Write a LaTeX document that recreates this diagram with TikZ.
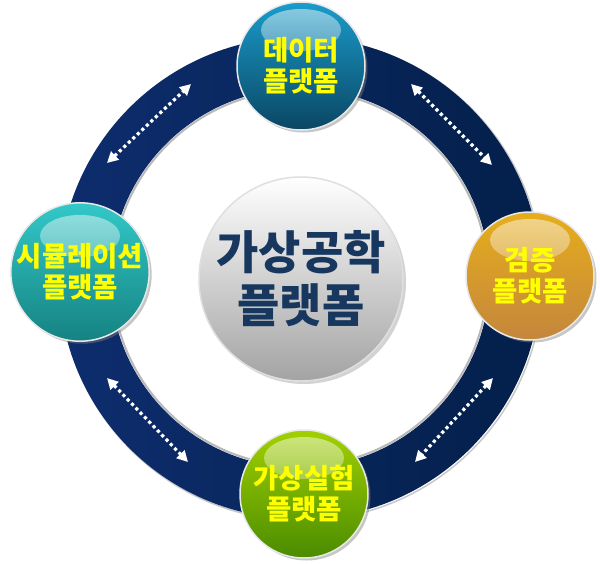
\documentclass[tikz,border=0pt]{standalone}
\usepackage{fontspec}
\newfontfamily\kr{Noto Sans CJK KR}
\usetikzlibrary{arrows.meta,shadows,fadings}
\definecolor{ringL}{HTML}{0E2D6E}
\definecolor{ringR}{HTML}{031F4A}
\definecolor{navytext}{HTML}{17375E}
\definecolor{txtyellow}{HTML}{FFFF00}
\definecolor{blueT}{HTML}{1A9CCB}
\definecolor{blueB}{HTML}{0A4663}
\definecolor{goldT}{HTML}{E6AE1C}
\definecolor{goldB}{HTML}{C4863C}
\definecolor{tealT}{HTML}{33C8C8}
\definecolor{tealB}{HTML}{168282}
\definecolor{limeT}{HTML}{A2D000}
\definecolor{limeB}{HTML}{4A8C00}
\tikzset{
  ball/.style={circle, minimum size=128pt, inner sep=0pt, draw=white!82!gray, line width=1.5pt,
    drop shadow={shadow xshift=2.5pt, shadow yshift=-2.5pt, opacity=.45},
    align=center, text=txtyellow, font=\kr\bfseries\fontsize{27.5}{31}\selectfont,
    path picture={\fill[white, path fading=south, fill opacity=.5]
      ([yshift=36pt]path picture bounding box.center) ellipse [x radius=40pt, y radius=21pt];}},
  hub/.style={circle, minimum size=204pt, inner sep=0pt, draw=white!75!gray, line width=1.5pt,
    top color=white, bottom color=black!36,
    drop shadow={shadow xshift=3pt, shadow yshift=-3pt, opacity=.35},
    align=center, text=navytext, font=\kr\bfseries\fontsize{46}{53}\selectfont},
  arrowdots/.style={white, line width=3.2pt, dash pattern=on 3.2pt off 3pt,
    {Triangle[length=11pt,width=11pt]}-{Triangle[length=11pt,width=11pt]}}
}
\begin{document}
\begin{tikzpicture}[x=1pt,y=-1pt]
\useasboundingbox (0,0) rectangle (600,563);
% ring
\draw[black!28, line width=2pt] (300,278) circle[radius=188pt];
\draw[black!22, line width=1.5pt] (301.5,279.5) circle[radius=241pt];
\shade[left color=ringL, right color=ringR, even odd rule]
  (300,278) circle[radius=241pt] (300,278) circle[radius=189.5pt];
% arrows
\coordinate (tl1) at (107,163); \coordinate (tl2) at (191,84);
\coordinate (tr1) at (411,84);  \coordinate (tr2) at (492,165);
\coordinate (br1) at (493,378); \coordinate (br2) at (415,462);
\coordinate (bl1) at (107,378); \coordinate (bl2) at (188,462);
\draw[arrowdots] (tl1) -- (tl2);
\draw[arrowdots] (tr1) -- (tr2);
\draw[arrowdots] (br1) -- (br2);
\draw[arrowdots] (bl1) -- (bl2);
% hub
\node[hub] (hub) at (301,279) {가상공학\\플랫폼};
% balls
\node[ball, top color=blueT, bottom color=blueB] (data) at (301,66) {데이터\\플랫폼};
\node[ball, top color=goldT, bottom color=goldB] (verify) at (530,276) {검증\\플랫폼};
\node[ball, top color=tealT, bottom color=tealB] (sim) at (80,272) {시뮬레이션\\플랫폼};
\node[ball, top color=limeT, bottom color=limeB] (exp) at (304,494) {가상실험\\플랫폼};
\end{tikzpicture}
\end{document}
